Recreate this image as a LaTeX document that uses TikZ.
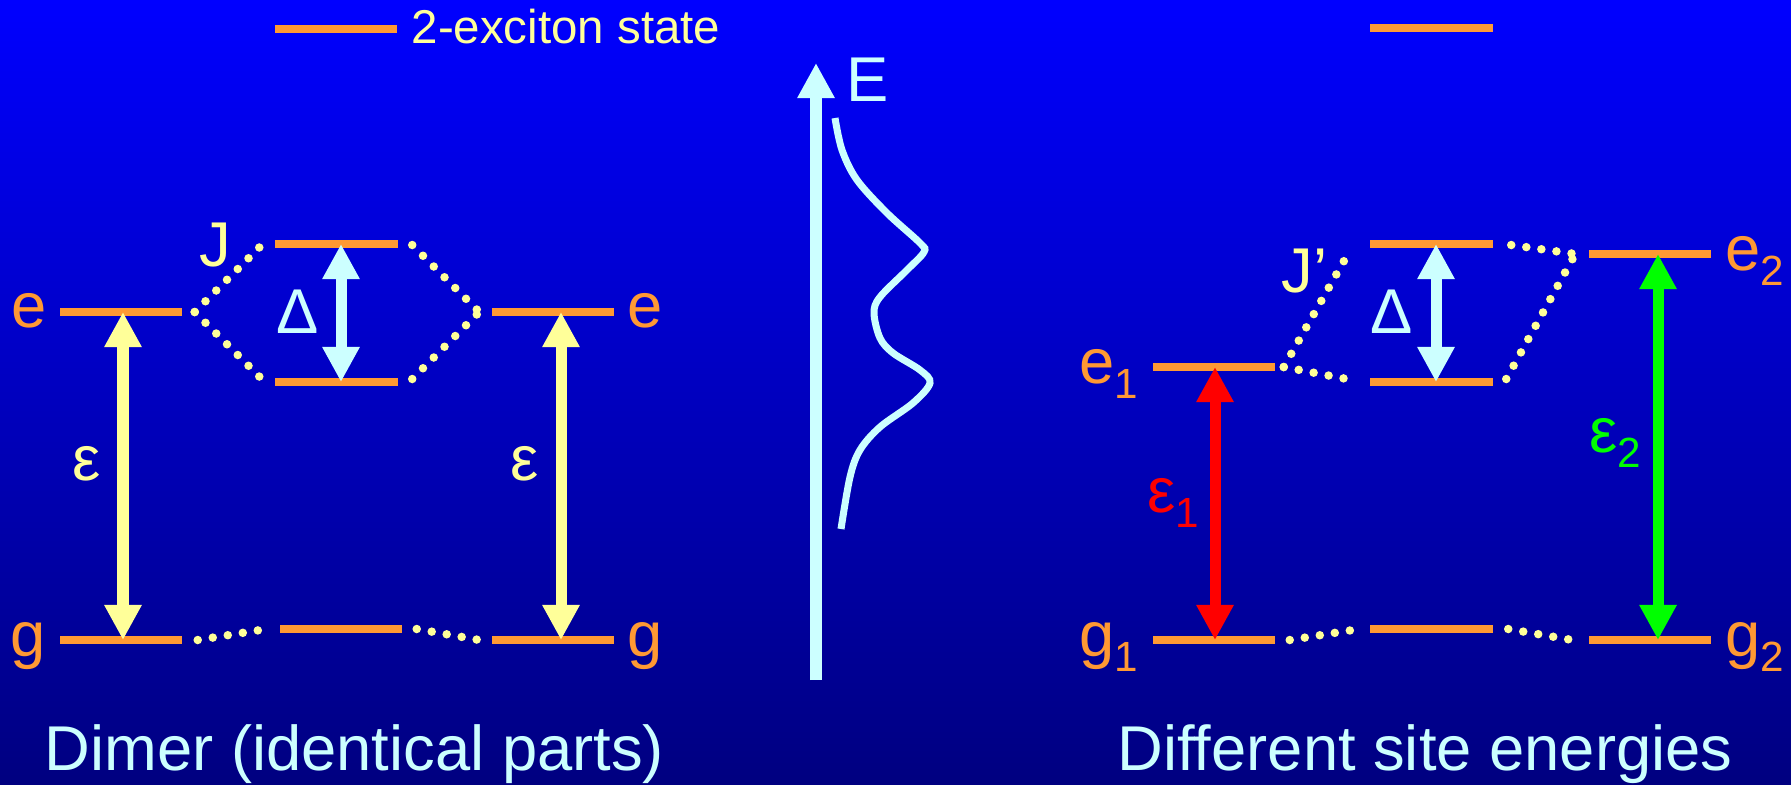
\documentclass[tikz,border=0pt]{standalone}
\usepackage{fontspec}
\setmainfont{Liberation Sans}
\usepackage{xcolor}
\usepackage{tikz}
\usetikzlibrary{arrows.meta,positioning}
\definecolor{lvlorange}{RGB}{255,153,51}
\definecolor{pale}{RGB}{255,255,153}
\definecolor{ice}{RGB}{204,255,255}
\definecolor{navy}{RGB}{0,0,128}
\definecolor{brightgreen}{RGB}{0,255,0}
\newcommand{\lowsub}[1]{\raisebox{-0.15cm}{\fontsize{12}{14}\selectfont #1}}

\begin{document}
\begin{tikzpicture}[
  x=0.01cm, y=-0.01cm,
  >={Triangle[width=0.35cm, length=0.35cm]},
  lvl/.style={fill=lvlorange, minimum width=1.22cm, minimum height=0.08cm, inner sep=0pt},
  lbl/.style={font=\fontsize{18}{20}\selectfont, inner sep=0pt, anchor=base},
  coup/.style={draw=pale, line width=0.085cm, line cap=round, dash pattern=on 0pt off 0.152cm},
  trans/.style={<->, line width=0.11cm},
]
% background
\shade[top color=blue, bottom color=navy] (0,0) rectangle (1791,784);
% levels, dimer
\node[lvl] (ex2L) at (336,29) {};
\node[lvl] (eL) at (121,312) {};
\node[lvl] (eR) at (553,312) {};
\node[lvl] (jl) at (336.5,244) {};
\node[lvl] (jlo) at (336.5,382) {};
\node[lvl] (gL) at (121,640) {};
\node[lvl] (gR) at (553,640) {};
\node[lvl] (gml) at (341,629) {};
% levels, different site energies
\node[lvl] (ex2R) at (1431.5,28) {};
\node[lvl] (jr) at (1431.5,244) {};
\node[lvl] (jro) at (1431.5,382) {};
\node[lvl] (e1) at (1214,367) {};
\node[lvl] (e2) at (1650,254) {};
\node[lvl] (g1) at (1214,640) {};
\node[lvl] (g2) at (1650,640) {};
\node[lvl] (gmr) at (1431.5,629) {};
% labels
\node[lbl, pale, font=\fontsize{13.5}{16}\selectfont] (legend) at (566,43) {2-exciton state};
\node[lbl, lvlorange] (eLlbl) at (28.7,327.5) {e};
\node[lbl, lvlorange] (eRlbl) at (645,327.5) {e};
\node[lbl, lvlorange] (gLlbl) at (28,656) {g};
\node[lbl, lvlorange] (gRlbl) at (645,656) {g};
\node[lbl, pale] (J) at (215.5,266) {J};
\node[lbl, ice] (dL) at (298,333) {Δ};
\node[lbl, pale] (epsL) at (87,480) {ε};
\node[lbl, pale] (epsR) at (525,480) {ε};
\node[lbl, ice] (titleL) at (354.5,770) {Dimer (identical parts)};
\node[lbl, lvlorange, anchor=base west] (e1lbl) at (1078.5,383) {e\lowsub{1}};
\node[lbl, lvlorange, anchor=base west] (e2lbl) at (1724.5,270) {e\lowsub{2}};
\node[lbl, lvlorange, anchor=base west] (g1lbl) at (1078.5,656) {g\lowsub{1}};
\node[lbl, lvlorange, anchor=base west] (g2lbl) at (1724.5,656) {g\lowsub{2}};
\node[lbl, pale, anchor=base west] (Jp) at (1281,292) {J’};
\node[lbl, ice] (dR) at (1392,333) {Δ};
\node[lbl, red, anchor=base west] (eps1) at (1147,512) {ε\lowsub{1}};
\node[lbl, brightgreen, anchor=base west] (eps2) at (1589,452) {ε\lowsub{2}};
\node[lbl, ice] (titleR) at (1425,770) {Different site energies};
% couplings, dimer
\draw[coup] ([shift={(12,0)}]eL.east) -- ([shift={(-13,1)}]jl.west);
\draw[coup] ([shift={(12,0)}]eL.east) -- ([shift={(-13,-3)}]jlo.west);
\draw[coup] ([shift={(14,1)}]jl.east) -- ([shift={(-12,0)}]eR.west);
\draw[coup] ([shift={(14,-3)}]jlo.east) -- ([shift={(-12,0)}]eR.west);
\draw[coup] ([shift={(15,0)}]gL.east) -- ([shift={(-19,1)}]gml.west);
\draw[coup] ([shift={(14,0)}]gml.east) -- ([shift={(-12,0)}]gR.west);
% couplings, different site energies
\draw[coup] ([shift={(8,0)}]e1.east) -- ([shift={(-23,12)}]jr.west);
\draw[coup] ([shift={(8,0)}]e1.east) -- ([shift={(-23,-3)}]jro.west);
\draw[coup] ([shift={(18,1)}]jr.east) -- ([shift={(-13,0)}]e2.west);
\draw[coup] ([shift={(13,-3)}]jro.east) -- ([shift={(-13,0)}]e2.west);
\draw[coup] ([shift={(14,0)}]g1.east) -- ([shift={(-17,1)}]gmr.west);
\draw[coup] ([shift={(15,0)}]gmr.east) -- ([shift={(-16,0)}]g2.west);
% transitions
\draw[trans, pale] ([shift={(2,0)}]eL.center) -- ([shift={(2,0)}]gL.center);
\draw[trans, pale] ([shift={(8,0)}]eR.center) -- ([shift={(8,0)}]gR.center);
\draw[trans, ice] ([shift={(4.5,0)}]jl.center) -- ([shift={(4.5,0)}]jlo.center);
\draw[trans, ice] ([shift={(4.5,0)}]jr.center) -- ([shift={(4.5,0)}]jro.center);
\draw[trans, red] ([shift={(1,0)}]e1.center) -- ([shift={(1,0)}]g1.center);
\draw[trans, brightgreen] ([shift={(8,0)}]e2.center) -- ([shift={(8,0)}]g2.center);
% energy axis and spectrum
\coordinate (Ebot) at (816,680);
\coordinate (Etop) at (816,63);
\draw[->, ice, line width=0.12cm] (Ebot) -- (Etop);
\node[lbl, ice] (E) at (867.5,101) {E};
\draw[ice, line width=0.07cm] plot[smooth, tension=0.55] coordinates {
  (835,118) (842,150) (857,180) (887,213) (920,243) (924,252) (907,270)
  (880,297) (874,313) (880,338) (893,353) (920,370) (930,383) (913,403)
  (880,427) (860,450) (850,477) (841,529)};
\end{tikzpicture}
\end{document}
